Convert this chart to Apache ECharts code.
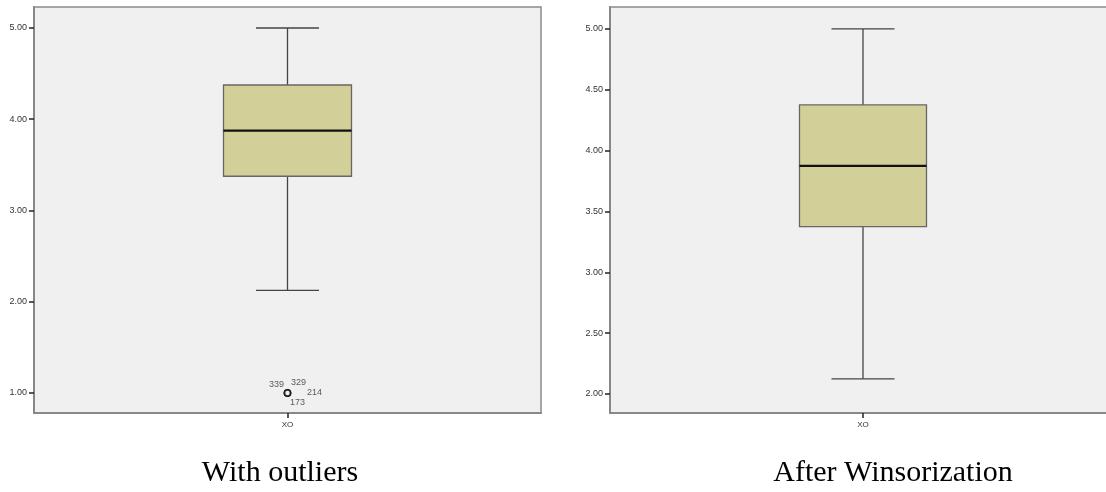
<!DOCTYPE html>
<html>
<head>
<meta charset="utf-8">
<script src="https://cdn.jsdelivr.net/npm/echarts@6/dist/echarts.min.js"></script>
<style>html,body{margin:0;padding:0;background:#fff;overflow:hidden;}#c{width:1106px;height:492px;}</style>
</head>
<body>
<div id="c"></div>
<script>
// ---- data ----
const categories = ['XO'];
const withOutliersBox = [2.125, 3.375, 3.875, 4.375, 5.0];   // min, Q1, median, Q3, max
const outlierValue = 1.0;
const outlierIds = ['339', '329', '214', '173'];
const winsorizedBox = [2.125, 3.375, 3.875, 4.375, 5.0];
const leftTicks = [1, 2, 3, 4, 5];
const rightTicks = [2, 2.5, 3, 3.5, 4, 4.5, 5];
const captions = ['With outliers', 'After Winsorization'];

const chart = echarts.init(document.getElementById('c'));
const font = '"Liberation Sans", Arial, sans-serif';
const labelOffsets = [[-11, -8], [11, -10], [27, 0], [10, 10]];

function yAxis(gi, min, max, ticks) {
  return {
    type: 'value', gridIndex: gi, min: min, max: max,
    splitLine: { show: false },
    axisLine: { show: true, lineStyle: { color: '#888', width: 2 } },
    axisTick: { show: true, length: 5, lineStyle: { color: '#222', width: 1.5 }, customValues: ticks },
    axisLabel: { customValues: ticks, formatter: v => v.toFixed(2), color: '#333', fontSize: 9, fontFamily: font, margin: 7 }
  };
}
function xAxis(gi) {
  return {
    type: 'category', gridIndex: gi, data: categories, boundaryGap: true,
    axisLine: { show: true, lineStyle: { color: '#888', width: 2 } },
    axisTick: { show: true, alignWithLabel: true, length: 5, lineStyle: { color: '#222', width: 1.5 } },
    axisLabel: { color: '#333', fontSize: 8, fontFamily: font, margin: 8 }
  };
}
function boxSeries(gi, box, halfW, capHalf) {
  return {
    type: 'custom', xAxisIndex: gi, yAxisIndex: gi, z: 5,
    data: [[0].concat(box)],
    renderItem: function (params, api) {
      const x = api.value(0);
      const pMin = api.coord([x, api.value(1)]);
      const pQ1 = api.coord([x, api.value(2)]);
      const pMed = api.coord([x, api.value(3)]);
      const pQ3 = api.coord([x, api.value(4)]);
      const pMax = api.coord([x, api.value(5)]);
      const cx = pMin[0];
      const ws = { stroke: '#444', lineWidth: 1.3 };
      return { type: 'group', children: [
        { type: 'line', shape: { x1: cx, y1: pMax[1], x2: cx, y2: pQ3[1] }, style: ws },
        { type: 'line', shape: { x1: cx, y1: pQ1[1], x2: cx, y2: pMin[1] }, style: ws },
        { type: 'line', shape: { x1: cx - capHalf, y1: pMax[1], x2: cx + capHalf, y2: pMax[1] }, style: ws },
        { type: 'line', shape: { x1: cx - capHalf, y1: pMin[1], x2: cx + capHalf, y2: pMin[1] }, style: ws },
        { type: 'rect', shape: { x: cx - halfW, y: pQ3[1], width: 2 * halfW, height: pQ1[1] - pQ3[1] },
          style: { fill: '#d3cf99', stroke: '#666', lineWidth: 1.3 } },
        { type: 'line', shape: { x1: cx - halfW, y1: pMed[1], x2: cx + halfW, y2: pMed[1] },
          style: { stroke: '#111', lineWidth: 2.2 } }
      ] };
    }
  };
}

const option = {
  animation: false,
  backgroundColor: '#fff',
  grid: [
    { left: 34, top: 7, width: 507, height: 406, show: true, backgroundColor: '#f0f0f0', borderColor: '#8a8a8a', borderWidth: 1.5, outerBoundsMode: 'none' },
    { left: 610, top: 7, width: 506, height: 406, show: true, backgroundColor: '#f0f0f0', borderColor: '#8a8a8a', borderWidth: 1.5, outerBoundsMode: 'none' }
  ],
  xAxis: [xAxis(0), xAxis(1)],
  yAxis: [yAxis(0, 0.78, 5.23, leftTicks), yAxis(1, 1.844, 5.18, rightTicks)],
  series: [
    boxSeries(0, withOutliersBox, 64, 31.5),
    boxSeries(1, winsorizedBox, 63.5, 31.5),
    { type: 'scatter', xAxisIndex: 0, yAxisIndex: 0, z: 6,
      symbol: 'circle', symbolSize: 6,
      itemStyle: { color: '#f0f0f0', borderColor: '#111', borderWidth: 1.6 },
      data: outlierIds.map((id, i) => ({
        value: [0, outlierValue],
        label: { show: true, formatter: id, position: 'inside', offset: labelOffsets[i],
                 color: '#333', fontSize: 9, fontFamily: font }
      }))
    }
  ],
  graphic: [
    { type: 'text', x: 280, y: 473, style: { text: captions[0], font: '30px "Liberation Serif", "Times New Roman", serif', fill: '#000', textAlign: 'center', textVerticalAlign: 'middle' } },
    { type: 'text', x: 893, y: 473, style: { text: captions[1], font: '30px "Liberation Serif", "Times New Roman", serif', fill: '#000', textAlign: 'center', textVerticalAlign: 'middle' } }
  ]
};
chart.setOption(option);
</script>
</body>
</html>
